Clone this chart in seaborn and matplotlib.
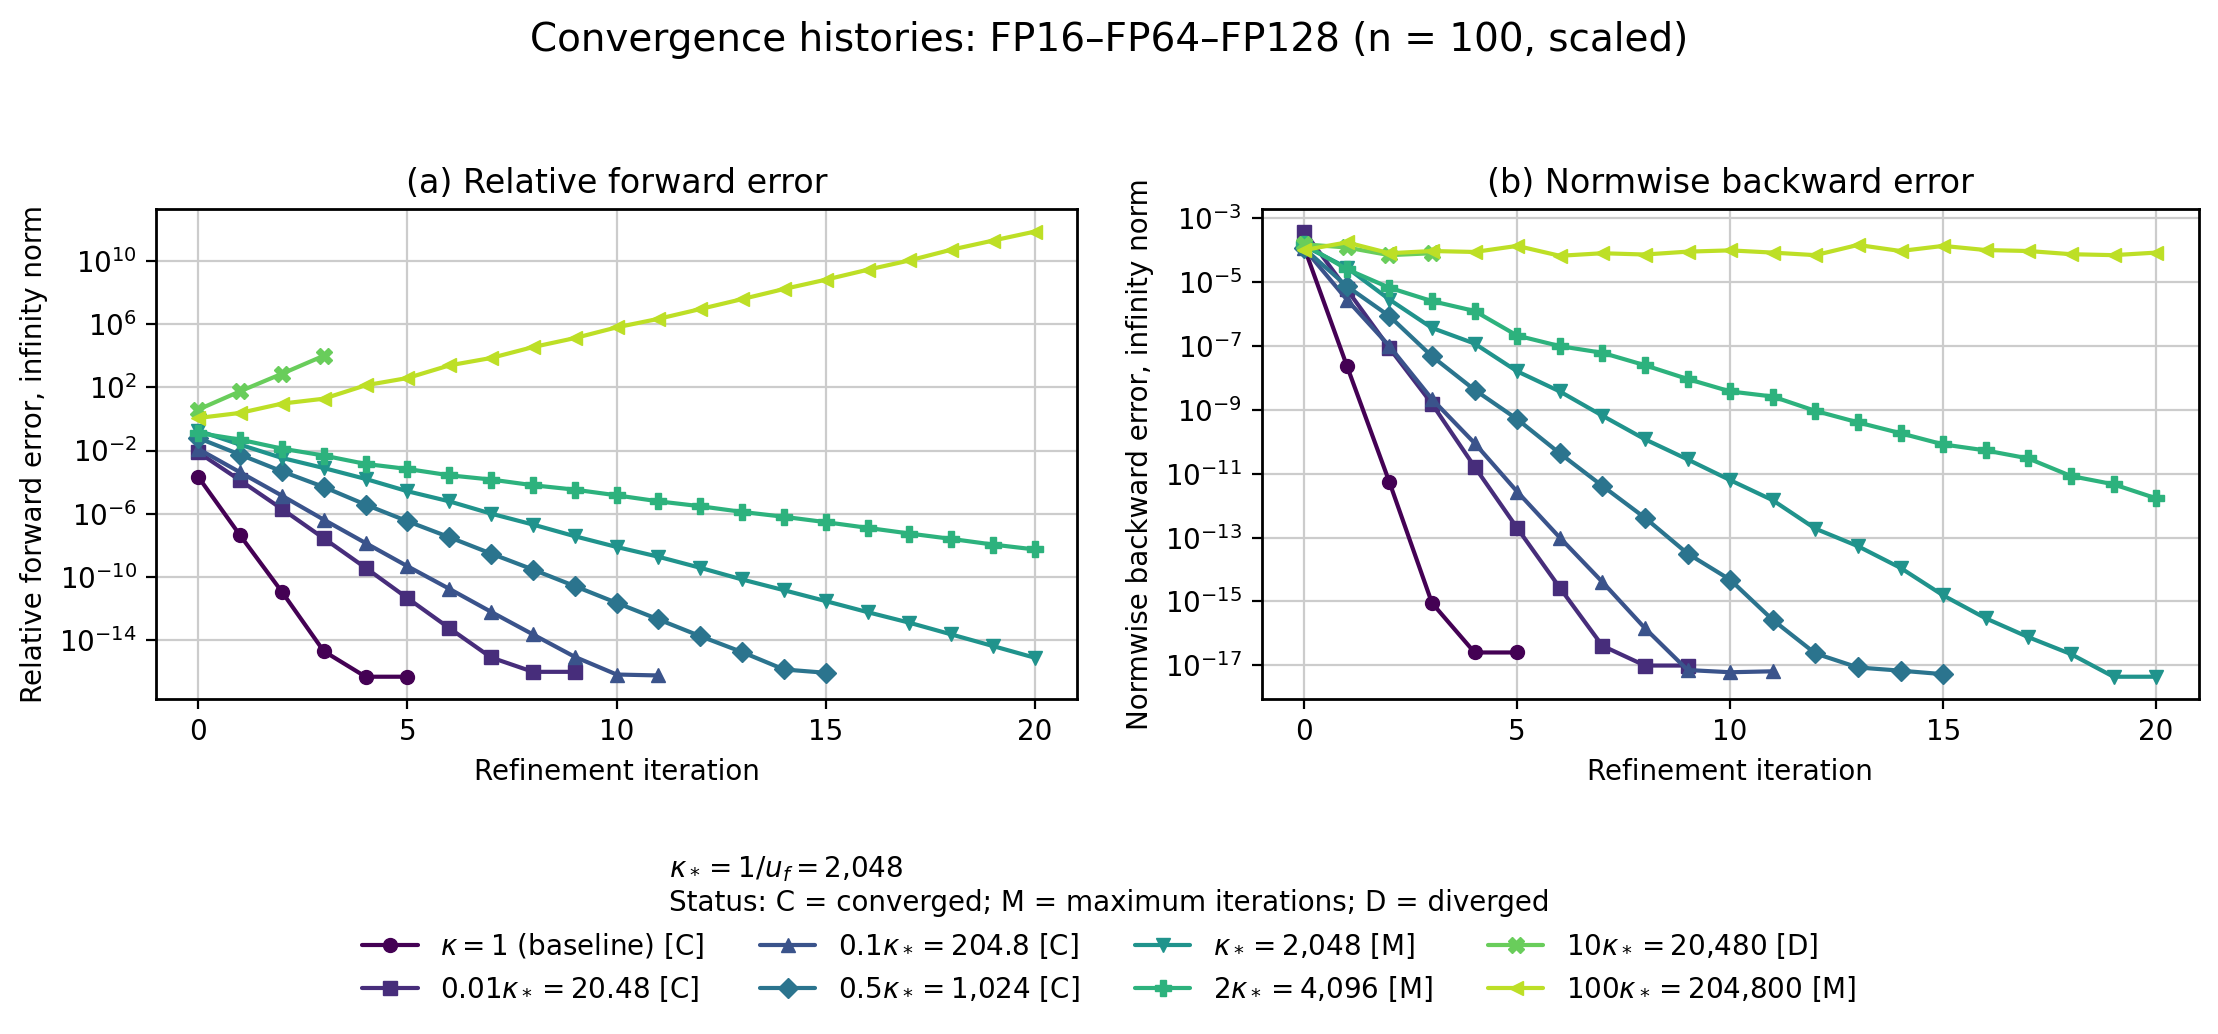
import numpy as np
import pandas as pd
import matplotlib
matplotlib.use("Agg")
import matplotlib.pyplot as plt
import seaborn as sns
from matplotlib.ticker import NullLocator

# series labels, markers (legend order)
labels = [
    r"$\kappa = 1$ (baseline) [C]",
    r"$0.01\kappa_* = 20.48$ [C]",
    r"$0.1\kappa_* = 204.8$ [C]",
    r"$0.5\kappa_* = 1{,}024$ [C]",
    r"$\kappa_* = 2{,}048$ [M]",
    r"$2\kappa_* = 4{,}096$ [M]",
    r"$10\kappa_* = 20{,}480$ [D]",
    r"$100\kappa_* = 204{,}800$ [M]",
]
markers = ["o", "s", "^", "D", "v", "P", "X", "<"]

# log10 of relative forward error
fwd_k1 = [-3.67, -7.37, -10.95, -14.71, -16.33, -16.33]
fwd_k001 = [-2.11, -3.89, -5.70, -7.56, -9.43, -11.35, -13.25, -15.11, -16.02, -16.02]
fwd_k01 = [-1.90, -3.38, -4.86, -6.38, -7.86, -9.33, -10.76, -12.22, -13.65, -15.07,
            -16.19, -16.25]
fwd_k05 = [-1.21, -2.26, -3.32, -4.31, -5.43, -6.48, -7.49, -8.53, -9.54, -10.59,
           -11.65, -12.70, -13.76, -14.77, -15.87, -16.08]
fwd_k1s = [-0.74, -1.63, -2.47, -3.11, -3.80, -4.58, -5.22, -6.00, -6.69, -7.43,
           -8.11, -8.73, -9.43, -10.17, -10.85, -11.54, -12.24, -12.91, -13.65, -14.39,
           -15.13]
fwd_k2 = [-0.89, -1.31, -1.88, -2.32, -2.85, -3.17, -3.57, -3.84, -4.20, -4.48,
          -4.84, -5.22, -5.53, -5.89, -6.20, -6.54, -6.90, -7.26, -7.60, -7.96, -8.27]
fwd_k10 = [0.59, 1.75, 2.86, 4.00]
fwd_k100 = [0.06, 0.38, 0.97, 1.28, 2.13, 2.59, 3.39, 3.86, 4.55, 5.12,
            5.80, 6.34, 6.96, 7.59, 8.23, 8.82, 9.45, 10.04, 10.72, 11.30, 11.87]

# log10 of normwise backward error
bwd_k1 = [-3.91, -7.61, -11.26, -15.05, -16.60, -16.60]
bwd_k001 = [-3.41, -5.22, -7.06, -8.81, -10.78, -12.70, -14.57, -16.39, -17.01, -17.01]
bwd_k01 = [-3.94, -5.54, -7.00, -8.66, -10.04, -11.56, -13.00, -14.39, -15.84, -17.15,
           -17.22, -17.19]
bwd_k05 = [-3.94, -5.12, -6.06, -7.32, -8.37, -9.29, -10.36, -11.38, -12.38, -13.50,
           -14.32, -15.58, -16.63, -17.07, -17.17, -17.28]
bwd_k1s = [-3.86, -4.54, -5.54, -6.43, -6.92, -7.79, -8.42, -9.18, -9.92, -10.55,
           -11.20, -11.83, -12.72, -13.27, -13.95, -14.81, -15.53, -16.12, -16.65, -17.36,
           -17.36]
bwd_k2 = [-3.81, -4.59, -5.17, -5.59, -5.90, -6.67, -7.00, -7.21, -7.60, -8.03,
          -8.42, -8.58, -9.03, -9.39, -9.73, -10.08, -10.27, -10.52, -11.07, -11.33, -11.77]
bwd_k10 = [-3.81, -3.91, -4.15, -4.09]
bwd_k100 = [-3.99, -3.75, -4.09, -4.02, -4.05, -3.86, -4.17, -4.09, -4.13, -4.04,
            -4.00, -4.07, -4.15, -3.83, -4.02, -3.86, -3.99, -4.02, -4.12, -4.15, -4.07]

fwd = [fwd_k1, fwd_k001, fwd_k01, fwd_k05, fwd_k1s, fwd_k2, fwd_k10, fwd_k100]
bwd = [bwd_k1, bwd_k001, bwd_k01, bwd_k05, bwd_k1s, bwd_k2, bwd_k10, bwd_k100]

sns.set_theme(style="ticks", rc={"axes.grid": True, "grid.color": "#cccccc",
                                 "grid.linewidth": 0.8, "axes.edgecolor": "black",
                                 "axes.linewidth": 1.0, "xtick.color": "black",
                                 "ytick.color": "black", "text.color": "black",
                                 "axes.labelcolor": "black"})
plt.rcParams["font.family"] = ["DejaVu Sans"]
plt.rcParams["font.size"] = 10
plt.rcParams["axes.labelsize"] = 10
plt.rcParams["axes.titlesize"] = 12
plt.rcParams["xtick.labelsize"] = 10
plt.rcParams["ytick.labelsize"] = 10

colors = plt.cm.viridis(np.linspace(0, 0.9, len(labels)))

fig = plt.figure(figsize=(11.09, 5.17), dpi=200)
ax1 = fig.add_axes([0.0705, 0.324, 0.4150, 0.4736])
ax2 = fig.add_axes([0.5688, 0.324, 0.4225, 0.4736])

for ax, data in [(ax1, fwd), (ax2, bwd)]:
    for lab, mk, col, vals in zip(labels, markers, colors, data):
        df = pd.DataFrame({"it": np.arange(len(vals)), "err": 10.0 ** np.array(vals)})
        ms = 6 if mk in ("P", "X") else 5
        sns.lineplot(data=df, x="it", y="err", ax=ax, color=col, marker=mk,
                     markersize=ms, linewidth=1.5, markeredgecolor=col,
                     markeredgewidth=0.5, label=lab, legend=False)
    ax.set_yscale("log")
    ax.set_xticks([0, 5, 10, 15, 20])
    ax.set_xlim(-1, 21)
    ax.set_xlabel("Refinement iteration")
    ax.tick_params(axis="both", labelsize=10, length=3.5, width=0.8)

ax1.set_yticks([10.0 ** p for p in range(-14, 11, 4)])
ax2.set_yticks([10.0 ** p for p in range(-17, -2, 2)])
ax1.yaxis.set_minor_locator(NullLocator())
ax2.yaxis.set_minor_locator(NullLocator())

ax1.set_ylabel("Relative forward error, infinity norm")
ax2.set_ylabel("Normwise backward error, infinity norm")
ax1.set_title("(a) Relative forward error")
ax2.set_title("(b) Normwise backward error")

fig.suptitle("Convergence histories: FP16\u2013FP64\u2013FP128 (n = 100, scaled)",
             fontsize=14, y=0.98)

handles, labs = ax1.get_legend_handles_labels()
leg = fig.legend(handles, labs, loc="lower center", ncol=4, frameon=False,
                 bbox_to_anchor=(0.5, 0.005), fontsize=10,
                 title="$\\kappa_* = 1/u_f = 2{,}048$\nStatus: C = converged; M = maximum iterations; D = diverged",
                 title_fontsize=10, columnspacing=2.0, handlelength=2.0)
leg.get_title().set_multialignment("left")

fig.savefig("out.png", dpi=200)
